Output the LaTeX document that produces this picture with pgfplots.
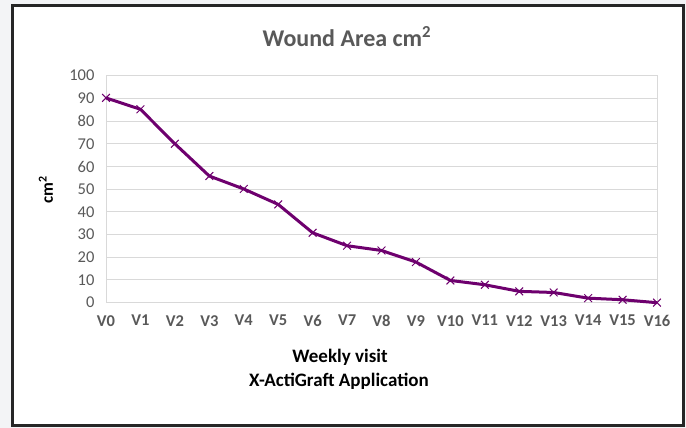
\documentclass[border=0pt]{standalone}
\usepackage{pgfplots}
\pgfplotsset{compat=1.18}
\usepackage{fontspec}
\setmainfont{Carlito}
\definecolor{bgc}{HTML}{F3F4F6}
\definecolor{frm}{HTML}{262626}
\definecolor{txt}{HTML}{595959}
\definecolor{grd}{HTML}{D9D9D9}
\definecolor{lin}{HTML}{6E006E}
\begin{document}
\begin{tikzpicture}[x=1pt,y=1pt]
\fill[bgc] (0,0) rectangle (686,428);
\filldraw[fill=white,draw=frm,line width=3pt] (12,2) rectangle (683,422);
\begin{axis}[
  at={(106pt,125.3pt)}, anchor=south west,
  scale only axis, width=551pt, height=227pt,
  xmin=0, xmax=16, ymin=0, ymax=100,
  xtick={0,...,16},
  xticklabels={V0,V1,V2,V3,V4,V5,V6,V7,V8,V9,V10,V11,V12,V13,V14,V15,V16},
  ytick={0,10,...,100},
  major tick length=0pt,
  ymajorgrids, grid style={grd, line width=1pt},
  axis line style={grd, line width=1pt},
  /pgf/number format/assume math mode=true,
  yticklabel style={font=\fontsize{16.5}{19}\selectfont, text=txt, xshift=-8pt},
  xticklabel style={font=\fontsize{16.5}{19}\selectfont\bfseries, text=txt, yshift=-9pt},
  clip=false,
]
\addplot[lin, line width=3pt, mark=x, mark size=5.5pt, mark options={line width=1pt, solid}] coordinates {
(0,90.2) (1,85.2) (2,70) (3,55.8) (4,50.1) (5,43.3) (6,30.8) (7,25.1) (8,23.0)
(9,17.9) (10,9.8) (11,7.9) (12,5.0) (13,4.5) (14,2.0) (15,1.3) (16,0)
};
\end{axis}
\node[font=\fontsize{24}{28}\selectfont\bfseries, text=txt] at (347,391) {Wound Area cm\textsuperscript{2}};
\node[font=\fontsize{17}{20}\selectfont\bfseries, rotate=90] at (46,238) {cm\textsuperscript{2}};
\node[font=\fontsize{19}{22}\selectfont\bfseries] at (340,71) {Weekly visit};
\node[font=\fontsize{19}{22}\selectfont\bfseries] at (339,47) {X-ActiGraft Application};
\end{tikzpicture}
\end{document}
